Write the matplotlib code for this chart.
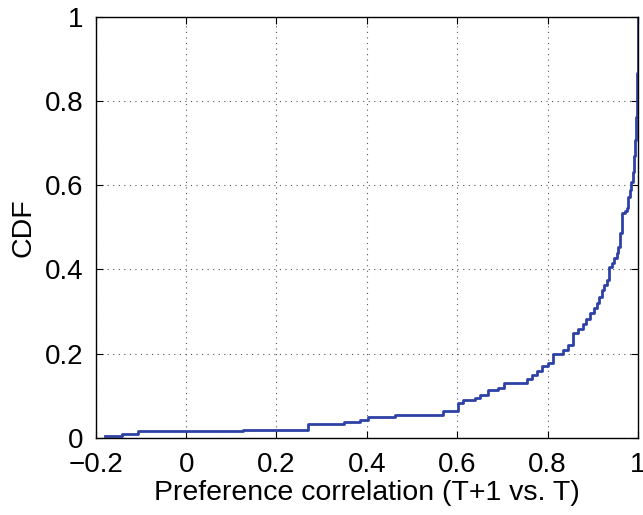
import matplotlib.pyplot as plt

# CDF of preference correlation
corr = [-0.18, -0.142, -0.107, 0.125, 0.269, 0.349, 0.385, 0.402, 0.462, 0.568,
        0.601, 0.612, 0.639, 0.650, 0.668, 0.690, 0.703, 0.754, 0.765, 0.776,
        0.787, 0.801, 0.812, 0.834, 0.845, 0.856, 0.867, 0.878, 0.886, 0.894,
        0.902, 0.909, 0.915, 0.920, 0.926, 0.931, 0.937, 0.942, 0.948, 0.953,
        0.957, 0.960, 0.965, 0.971, 0.976, 0.978, 0.982, 0.985, 0.989, 0.991,
        0.993, 0.995, 0.996, 0.997, 0.998, 0.999, 1.0]
cdf = [0.003, 0.010, 0.017, 0.019, 0.033, 0.038, 0.043, 0.050, 0.055, 0.064,
       0.083, 0.090, 0.095, 0.102, 0.114, 0.119, 0.130, 0.140, 0.150, 0.159,
       0.171, 0.178, 0.200, 0.209, 0.221, 0.250, 0.259, 0.270, 0.283, 0.297,
       0.308, 0.320, 0.335, 0.350, 0.363, 0.375, 0.406, 0.416, 0.428, 0.440,
       0.454, 0.487, 0.534, 0.540, 0.546, 0.572, 0.590, 0.608, 0.632, 0.670,
       0.708, 0.735, 0.762, 0.785, 0.803, 0.867, 1.0]

xticks = [-0.2, 0, 0.2, 0.4, 0.6, 0.8, 1]
xticklabels = ["\u22120.2", "0", "0.2", "0.4", "0.6", "0.8", "1"]
yticks = [0, 0.2, 0.4, 0.6, 0.8, 1]
yticklabels = ["0", "0.2", "0.4", "0.6", "0.8", "1"]

plt.rcParams["font.family"] = ["Liberation Sans", "DejaVu Sans"]

fig = plt.figure(figsize=(6.43, 5.15), dpi=100)
ax = fig.add_axes([0.149, 0.150, 0.843, 0.817])

ax.step(corr, cdf, where="post", color="#2e42a6", linewidth=2)

ax.set_xlim(-0.2, 1)
ax.set_ylim(0, 1)
ax.set_xticks(xticks)
ax.set_xticklabels(xticklabels)
ax.set_yticks(yticks)
ax.set_yticklabels(yticklabels)
ax.tick_params(direction="in", length=5, width=0.8, labelsize=20,
               top=True, right=True)
ax.tick_params(axis="y", pad=9)
ax.tick_params(axis="x", pad=10)
ax.grid(True, linestyle=(0, (1, 4)), color="#555555", linewidth=0.8)
for s in ax.spines.values():
    s.set_linewidth(1.0)

ax.set_xlabel("Preference correlation (T+1 vs. T)", fontsize=20.5, labelpad=2)
ax.set_ylabel("CDF", fontsize=20.5, labelpad=6)

fig.savefig("out.png", dpi=100)
